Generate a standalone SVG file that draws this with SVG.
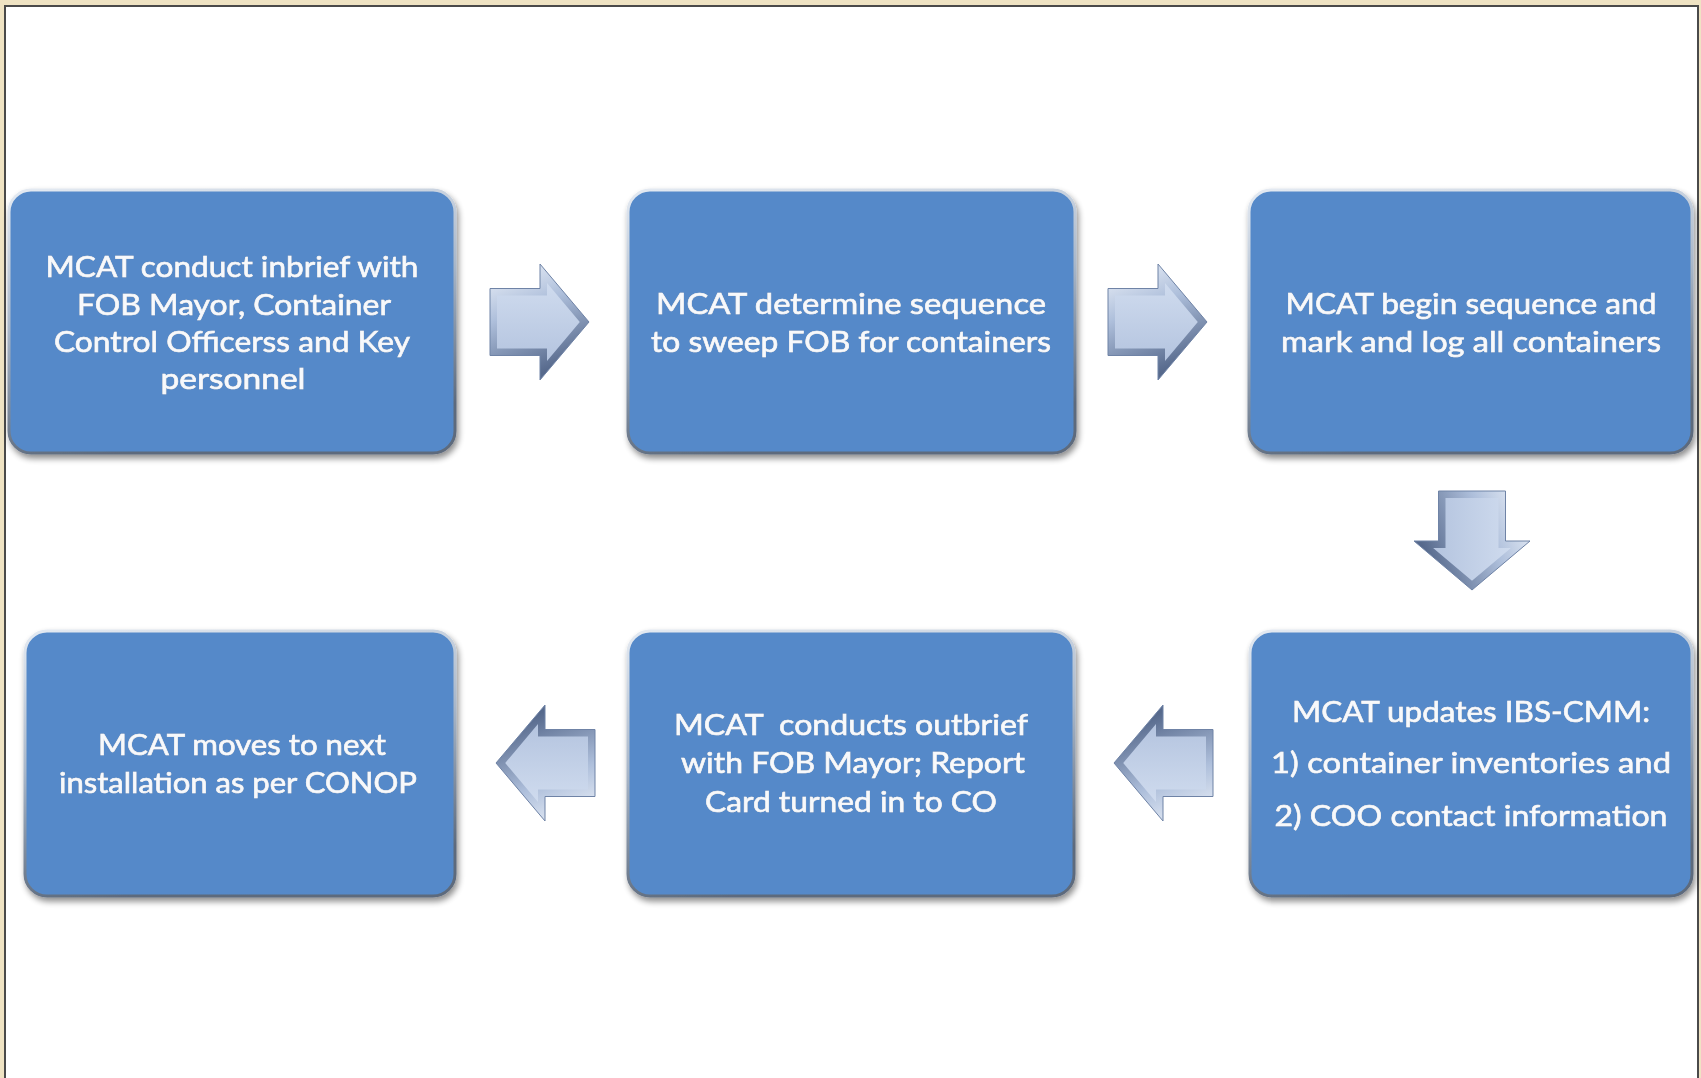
<svg xmlns="http://www.w3.org/2000/svg" width="1701" height="1078" viewBox="0 0 1701 1078">
  <defs>
    <style>
      .box { fill: #5489C9; stroke: url(#edge); stroke-width: 3; }
      .label { font-family: Lato, "Open Sans", "Liberation Sans", sans-serif; font-size: 29px; fill: #f7f9fc; stroke: #f7f9fc; stroke-width: 0.6; text-anchor: middle; filter: url(#txtShadow); }
      .arrow-outer { fill: url(#bevel); stroke: #6f83a6; stroke-width: 1; }
      .arrow-inner { fill: url(#face); }
    </style>
    <linearGradient id="edge" x1="0" y1="0" x2="0.25" y2="1">
      <stop offset="0" stop-color="#e4eaf2"/>
      <stop offset="0.5" stop-color="#a9b7c9"/>
      <stop offset="1" stop-color="#5d6a7c"/>
    </linearGradient>
    <linearGradient id="bevel" x1="0" y1="0" x2="0.35" y2="1">
      <stop offset="0" stop-color="#f1f5fb"/>
      <stop offset="0.45" stop-color="#aebfdb"/>
      <stop offset="1" stop-color="#56698c"/>
    </linearGradient>
    <linearGradient id="face" x1="0" y1="0" x2="0" y2="1">
      <stop offset="0" stop-color="#cfdbee"/>
      <stop offset="1" stop-color="#b4c4df"/>
    </linearGradient>
    <filter id="boxShadow" x="-5%" y="-5%" width="110%" height="115%">
      <feGaussianBlur in="SourceAlpha" stdDeviation="3"/>
      <feOffset dx="2" dy="4" result="b"/>
      <feComponentTransfer><feFuncA type="linear" slope="0.45"/></feComponentTransfer>
      <feMerge><feMergeNode/><feMergeNode in="SourceGraphic"/></feMerge>
    </filter>
    <filter id="txtShadow" x="-5%" y="-30%" width="110%" height="160%">
      <feGaussianBlur in="SourceAlpha" stdDeviation="1.2"/>
      <feOffset dx="0" dy="1"/>
      <feComponentTransfer><feFuncA type="linear" slope="0.55"/></feComponentTransfer>
      <feFlood flood-color="#2b4a74"/>
      <feComposite operator="in" in2="SourceAlpha"/>
      <feMerge><feMergeNode/><feMergeNode in="SourceGraphic"/></feMerge>
    </filter>
    <!-- block arrow pointing right, tail at x=0, centred on y=0 -->
    <g id="blockArrow">
      <path class="arrow-outer" d="M0,-33.5 H50 V-58 L99,0 L50,58 V33.5 H0 Z"/>
      <path class="arrow-inner" d="M7,-26.5 H57 V-38.9 L89.8,0 L57,38.9 V26.5 H7 Z"/>
    </g>
  </defs>

  <!-- page frame -->
  <rect x="0" y="0" width="1701" height="1078" fill="#efe3c3"/>
  <rect x="4" y="5" width="1695" height="1073" fill="#4a4a4a"/>
  <rect x="6" y="7" width="1691" height="1071" fill="#ffffff"/>

  <g id="connectors">
    <use href="#blockArrow" transform="translate(490,322)"/>
    <use href="#blockArrow" transform="translate(1108,322)"/>
    <use href="#blockArrow" transform="translate(1472,491) rotate(90)"/>
    <use href="#blockArrow" transform="translate(1213,763) rotate(180)"/>
    <use href="#blockArrow" transform="translate(595,763) rotate(180)"/>
  </g>

  <g id="step1" filter="url(#boxShadow)">
    <rect class="box" x="9" y="190" width="446" height="263" rx="22"/>
    <text class="label" x="232" y="277" textLength="373" lengthAdjust="spacingAndGlyphs">MCAT conduct inbrief with</text>
    <text class="label" x="234" y="315" textLength="314" lengthAdjust="spacingAndGlyphs">FOB Mayor, Container</text>
    <text class="label" x="232" y="352" textLength="356" lengthAdjust="spacingAndGlyphs">Control Officerss and Key</text>
    <text class="label" x="233" y="389" textLength="145" lengthAdjust="spacingAndGlyphs">personnel</text>
  </g>

  <g id="step2" filter="url(#boxShadow)">
    <rect class="box" x="628" y="190" width="447" height="263" rx="22"/>
    <text class="label" x="851" y="314" textLength="390" lengthAdjust="spacingAndGlyphs">MCAT determine sequence</text>
    <text class="label" x="851" y="352" textLength="400" lengthAdjust="spacingAndGlyphs">to sweep FOB for containers</text>
  </g>

  <g id="step3" filter="url(#boxShadow)">
    <rect class="box" x="1249" y="190" width="443" height="263" rx="22"/>
    <text class="label" x="1471" y="314" textLength="371" lengthAdjust="spacingAndGlyphs">MCAT begin sequence and</text>
    <text class="label" x="1471" y="352" textLength="380" lengthAdjust="spacingAndGlyphs">mark and log all containers</text>
  </g>

  <g id="step4" filter="url(#boxShadow)">
    <rect class="box" x="1250" y="631" width="442" height="265" rx="22"/>
    <text class="label" x="1471" y="722" textLength="358" lengthAdjust="spacingAndGlyphs">MCAT updates IBS-CMM:</text>
    <text class="label" x="1471" y="773" textLength="400" lengthAdjust="spacingAndGlyphs">1) container inventories and</text>
    <text class="label" x="1471" y="826" textLength="393" lengthAdjust="spacingAndGlyphs">2) COO contact information</text>
  </g>

  <g id="step5" filter="url(#boxShadow)">
    <rect class="box" x="628" y="631" width="446" height="265" rx="22"/>
    <text class="label" x="851" y="735" textLength="354" lengthAdjust="spacingAndGlyphs" style="white-space:pre">MCAT  conducts outbrief</text>
    <text class="label" x="853" y="773" textLength="344" lengthAdjust="spacingAndGlyphs">with FOB Mayor; Report</text>
    <text class="label" x="851" y="812" textLength="292" lengthAdjust="spacingAndGlyphs">Card turned in to CO</text>
  </g>

  <g id="step6" filter="url(#boxShadow)">
    <rect class="box" x="25" y="631" width="430" height="265" rx="22"/>
    <text class="label" x="242" y="755" textLength="288" lengthAdjust="spacingAndGlyphs">MCAT moves to next</text>
    <text class="label" x="238" y="793" textLength="358" lengthAdjust="spacingAndGlyphs">installation as per CONOP</text>
  </g>
</svg>
